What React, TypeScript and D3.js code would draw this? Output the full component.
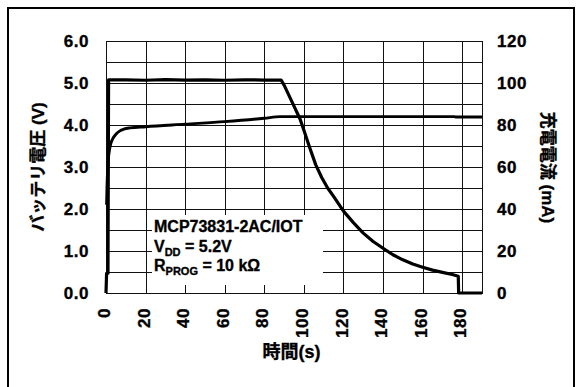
import React from 'react';
import * as d3 from 'd3';

// Charge profile
const currentTime = [0, 0.3, 1.0, 1.3, 10, 20, 30, 40, 50, 60, 70, 80, 88.5, 90, 95, 98, 100, 103, 106, 109, 112, 115, 120, 125, 130, 135, 140, 145, 150, 155, 160, 165, 170, 175, 178, 178.2, 190];
const currentMA = [0, 9.4, 9.4, 101.5, 101.5, 101.3, 101.6, 101.4, 101.5, 101.3, 101.5, 101.4, 101.4, 99, 89, 83, 77.5, 69, 61, 55, 50, 46, 39, 33.5, 28.5, 24.5, 21.3, 18.2, 15.8, 13.8, 12.3, 10.9, 9.8, 8.8, 8.0, 0, 0];

const voltageTime = [0.3, 0.5, 0.8, 1.2, 1.8, 2.5, 3.5, 5, 7, 9, 12, 20, 40, 60, 80, 88, 176, 177, 190];
const voltageV = [2.1, 2.5, 2.9, 3.2, 3.42, 3.57, 3.68, 3.78, 3.86, 3.9, 3.93, 3.96, 4.02, 4.08, 4.16, 4.2, 4.2, 4.19, 4.19];

const xTicks = [0, 20, 40, 60, 80, 100, 120, 140, 160, 180];
const vTicks = [0, 1, 2, 3, 4, 5, 6];
const iTicks = [0, 20, 40, 60, 80, 100, 120];
const vGrid = [0.5, 1, 1.5, 2, 2.5, 3, 3.5, 4, 4.5, 5, 5.5];

const legendLines = ['MCP73831-2AC/IOT', 'V|DD| = 5.2V', 'R|PROG| = 10 kΩ'];

const FONT = "'Liberation Sans', Arial, 'Noto Sans CJK JP', sans-serif";

export default function App() {
  const W = 578;
  const H = 387;
  const left = 106, right = 482, top = 41, bottom = 293;

  const x = d3.scaleLinear().domain([0, 190]).range([left, right]);
  const yV = d3.scaleLinear().domain([0, 6]).range([bottom, top]);
  const yI = d3.scaleLinear().domain([0, 120]).range([bottom, top]);

  const currentLine = d3.line<number>()
    .x((_, i) => x(currentTime[i]))
    .y(d => yI(d));
  const voltageLine = d3.line<number>()
    .x((_, i) => x(voltageTime[i]))
    .y(d => yV(d))
    .curve(d3.curveMonotoneX);

  const px = (v: number) => Math.round(v) + 0.5;
  const heavy = { stroke: '#000', strokeWidth: 0.35 };

  return (
    <svg width={W} height={H} style={{ position: 'absolute', left: 0, top: 0, background: '#fff' }} fontFamily={FONT}>
      <rect x={0} y={0} width={W} height={H} fill="#fff" />
      {/* outer frame */}
      <rect x={8} y={8} width={566} height={420} fill="none" stroke="#000" strokeWidth={2} />

      {/* grid */}
      {xTicks.map(t => (
        <line key={'gx' + t} x1={px(x(t))} x2={px(x(t))} y1={top} y2={bottom} stroke="#111" strokeWidth={1} />
      ))}
      {vGrid.map(v => (
        <line key={'gy' + v} x1={left} x2={right} y1={px(yV(v))} y2={px(yV(v))} stroke="#111" strokeWidth={1} />
      ))}
      <rect x={px(left)} y={px(top)} width={Math.round(right - left)} height={Math.round(bottom - top)} fill="none" stroke="#111" strokeWidth={1} />

      {/* legend box */}
      <rect x={152} y={215} width={171} height={70} fill="#fff" />
      {legendLines.map((s, i) => {
        const parts = s.split('|');
        return (
          <text key={s} x={154} y={232 + i * 19.7} fontSize={16} fontWeight="bold" fill="#000" {...heavy}>
            {parts[0]}
            {parts[1] && <tspan fontSize={11} dy={4}>{parts[1]}</tspan>}
            {parts[2] && <tspan dy={-4}>{parts[2]}</tspan>}
          </text>
        );
      })}

      {/* curves */}
      <path d={voltageLine(voltageV) || ''} fill="none" stroke="#000" strokeWidth={2.9} strokeLinejoin="round" />
      <path d={currentLine(currentMA) || ''} fill="none" stroke="#000" strokeWidth={3.2} strokeLinejoin="round" />

      {/* left axis labels */}
      {vTicks.map(v => (
        <text key={'vl' + v} x={89} y={yV(v)} dy="0.36em" textAnchor="end" fontSize={17} fontWeight="bold" letterSpacing={0.5} {...heavy}>
          {v.toFixed(1)}
        </text>
      ))}
      {/* right axis labels */}
      {iTicks.map(v => (
        <text key={'il' + v} x={497} y={yI(v)} dy="0.36em" textAnchor="start" fontSize={17} fontWeight="bold" letterSpacing={0.5} {...heavy}>
          {v}
        </text>
      ))}
      {/* x axis labels */}
      {xTicks.map(t => (
        <text key={'xl' + t} transform={`translate(${x(t) - 2},308) rotate(-90)`} dy="0.36em" textAnchor="end" fontSize={17} fontWeight="bold" letterSpacing={0.5} {...heavy}>
          {t}
        </text>
      ))}

      {/* titles */}
      <text transform="translate(38.5,167) rotate(-90)" textAnchor="middle" dominantBaseline="central" fontSize={17} fontWeight="bold" {...heavy}>
        バッテリ電圧 (V)
      </text>
      <text transform="translate(547.5,167.5) rotate(90)" textAnchor="middle" dominantBaseline="central" fontSize={17} fontWeight="bold" {...heavy}>
        充電電流 (mA)
      </text>
      <text x={291.5} y={352} textAnchor="middle" dominantBaseline="central" fontSize={18} fontWeight="bold" {...heavy}>
        時間(s)
      </text>
    </svg>
  );
}
